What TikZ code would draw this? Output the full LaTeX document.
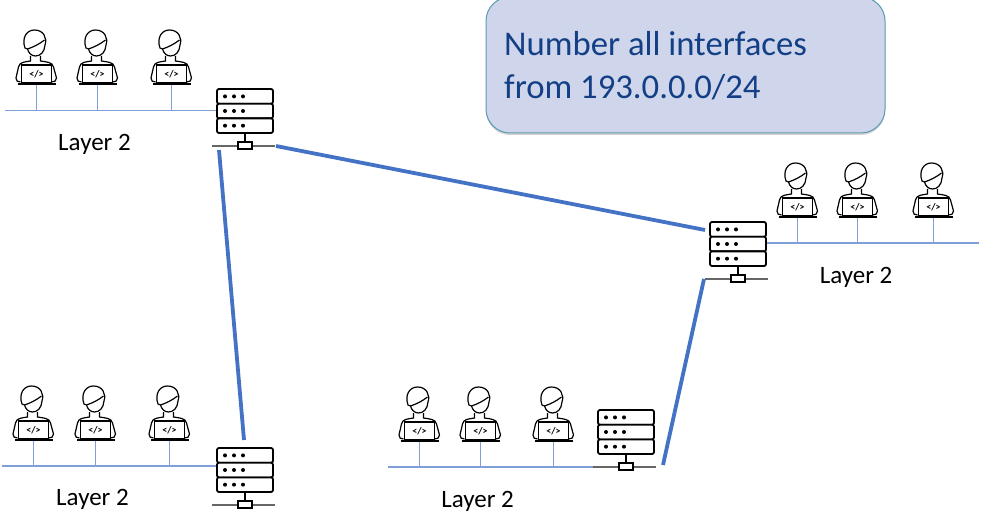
\documentclass[tikz,border=0pt]{standalone}
\usepackage{fontspec}
\setmainfont{Carlito}
\usetikzlibrary{shadows}
\definecolor{linkblue}{HTML}{4472C4}
\definecolor{wireblue}{HTML}{7F9FD8}
\definecolor{noteblue}{HTML}{CFD5EA}
\definecolor{noteedge}{HTML}{5B9BB5}
\definecolor{notetext}{HTML}{123F85}
\tikzset{
    x=1pt, y=-1pt,
    wire/.style={wireblue, line width=.9pt},
    lanbus/.style={wireblue, line width=1.3pt},
    link/.style={linkblue, line width=3.8pt},
    layerlabel/.style={font=\fontsize{25}{28}\selectfont, inner sep=0pt},
    note/.style={rounded corners=24pt, draw=noteedge, line width=1pt, fill=noteblue,
        drop shadow={shadow xshift=0pt, shadow yshift=-2pt, opacity=.35},
        minimum width=399pt, minimum height=136pt},
    pics/person/.style={code={
        \draw[line width=1.2pt, fill=white] (-11.5,-37) .. controls (-15,-47) and (-10,-55) .. (-2,-55)
            .. controls (7,-55) and (11,-47) .. (8.5,-40)
            .. controls (8,-33) and (4,-29) .. (-1,-29)
            .. controls (-5,-29) and (-8,-32) .. (-9,-36) -- cycle;
        \draw[line width=1.2pt] (-9,-36) .. controls (-3,-38) and (3,-41) .. (8,-45);
        \draw[line width=1.2pt] (-6,-29) -- (-6,-24) .. controls (-12,-23) and (-17,-23) .. (-18,-18)
            -- (-20.5,-7) .. controls (-20.5,-4) and (-19,-3) .. (-16,-3);
        \draw[line width=1.2pt] (4,-29) -- (4,-24) .. controls (10,-23) and (16,-23) .. (17,-18)
            -- (20,-7) .. controls (20,-4) and (18,-3) .. (15,-3);
        \draw[line width=1.2pt, fill=white] (-15,-20) rectangle (15,-2);
        \draw[line width=1.9pt] (-19,-1) -- (19,-1);
        \node[inner sep=0pt, font=\fontsize{10}{10}\selectfont\bfseries] at (0,-10.5) {</>};
    }},
    pics/router/.style={code={
        \draw[line width=1.1pt, gray!80!black] (-33,0) -- (30,0);
        \draw[line width=1.8pt] (0,-13) -- (0,-4);
        \draw[line width=1.8pt, fill=white] (-7,-4) rectangle (7,3);
        \draw[line width=1.8pt, fill=white, rounded corners=2pt] (-28,-57) rectangle (28,-42.3);
        \draw[line width=1.8pt, fill=white, rounded corners=2pt] (-28,-42.3) rectangle (28,-27.6);
        \draw[line width=1.8pt, fill=white, rounded corners=2pt] (-28,-27.6) rectangle (28,-13);
        \fill (-20,-49.6) circle (2pt) (-11,-49.6) circle (2pt) (-2,-49.6) circle (2pt);
        \fill (-20,-35) circle (2pt) (-11,-35) circle (2pt) (-2,-35) circle (2pt);
        \fill (-20,-20.3) circle (2pt) (-11,-20.3) circle (2pt) (-2,-20.3) circle (2pt);
    }},
}
\begin{document}
\begin{tikzpicture}
    \useasboundingbox (0,0) rectangle (985,521);

    \node (numnote) [note] at (685.5,65) {};
    \node (numtext) [inner sep=0pt, align=left, anchor=west, text=notetext,
        font=\fontsize{34.7}{43}\selectfont] at (504,66) {Number all interfaces\\from 193.0.0.0/24};

    % top left
    \coordinate (a1) at (36.5,85);
    \coordinate (a2) at (97.5,85);
    \coordinate (a3) at (171.5,85);
    \coordinate (busa) at (5,110.5);
    \coordinate (gwa) at (218,110.5);
    \coordinate (ra) at (245,146);
    % right
    \coordinate (b1) at (797.5,218);
    \coordinate (b2) at (857.5,218);
    \coordinate (b3) at (933.5,218);
    \coordinate (busb) at (767,243);
    \coordinate (gwb) at (979,243);
    \coordinate (rb) at (738,279);
    % bottom left
    \coordinate (c1) at (33.5,441);
    \coordinate (c2) at (95.5,441);
    \coordinate (c3) at (169.5,441);
    \coordinate (busc) at (2,466);
    \coordinate (gwc) at (216,466);
    \coordinate (rc) at (245,505);
    % bottom middle
    \coordinate (d1) at (419.5,442);
    \coordinate (d2) at (480.5,442);
    \coordinate (d3) at (553.5,442);
    \coordinate (busd) at (388,467);
    \coordinate (gwd) at (596,467);
    \coordinate (rd) at (626,467);

    \draw[lanbus] (busa) -- (gwa);
    \draw[lanbus] (busb) -- (gwb);
    \draw[lanbus] (busc) -- (gwc);
    \draw[lanbus] (busd) -- (gwd);

    \draw[wire] (a1) -- (a1 |- busa);
    \draw[wire] (a2) -- (a2 |- busa);
    \draw[wire] (a3) -- (a3 |- busa);
    \draw[wire] (b1) -- (b1 |- busb);
    \draw[wire] (b2) -- (b2 |- busb);
    \draw[wire] (b3) -- (b3 |- busb);
    \draw[wire] (c1) -- (c1 |- busc);
    \draw[wire] (c2) -- (c2 |- busc);
    \draw[wire] (c3) -- (c3 |- busc);
    \draw[wire] (d1) -- (d1 |- busd);
    \draw[wire] (d2) -- (d2 |- busd);
    \draw[wire] (d3) -- (d3 |- busd);

    \pic at (a1) {person};
    \pic at (a2) {person};
    \pic at (a3) {person};
    \pic at (b1) {person};
    \pic at (b2) {person};
    \pic at (b3) {person};
    \pic at (c1) {person};
    \pic at (c2) {person};
    \pic at (c3) {person};
    \pic at (d1) {person};
    \pic at (d2) {person};
    \pic at (d3) {person};

    \pic at (ra) {router};
    \pic at (rb) {router};
    \pic at (rc) {router};
    \pic at (rd) {router};

    \node (laya) [layerlabel] at (94.5,144) {Layer 2};
    \node (layb) [layerlabel] at (856,277) {Layer 2};
    \node (layc) [layerlabel] at (92.5,499) {Layer 2};
    \node (layd) [layerlabel] at (477.5,501) {Layer 2};

    % links between routers
    \coordinate (ab1) at (276,146);
    \coordinate (ab2) at (705,230);
    \coordinate (ac1) at (219,150);
    \coordinate (ac2) at (244,440);
    \coordinate (db1) at (663,465);
    \coordinate (db2) at (704,279);
    \draw[link] (ab1) -- (ab2);
    \draw[link] (ac1) -- (ac2);
    \draw[link] (db1) -- (db2);
\end{tikzpicture}
\end{document}
